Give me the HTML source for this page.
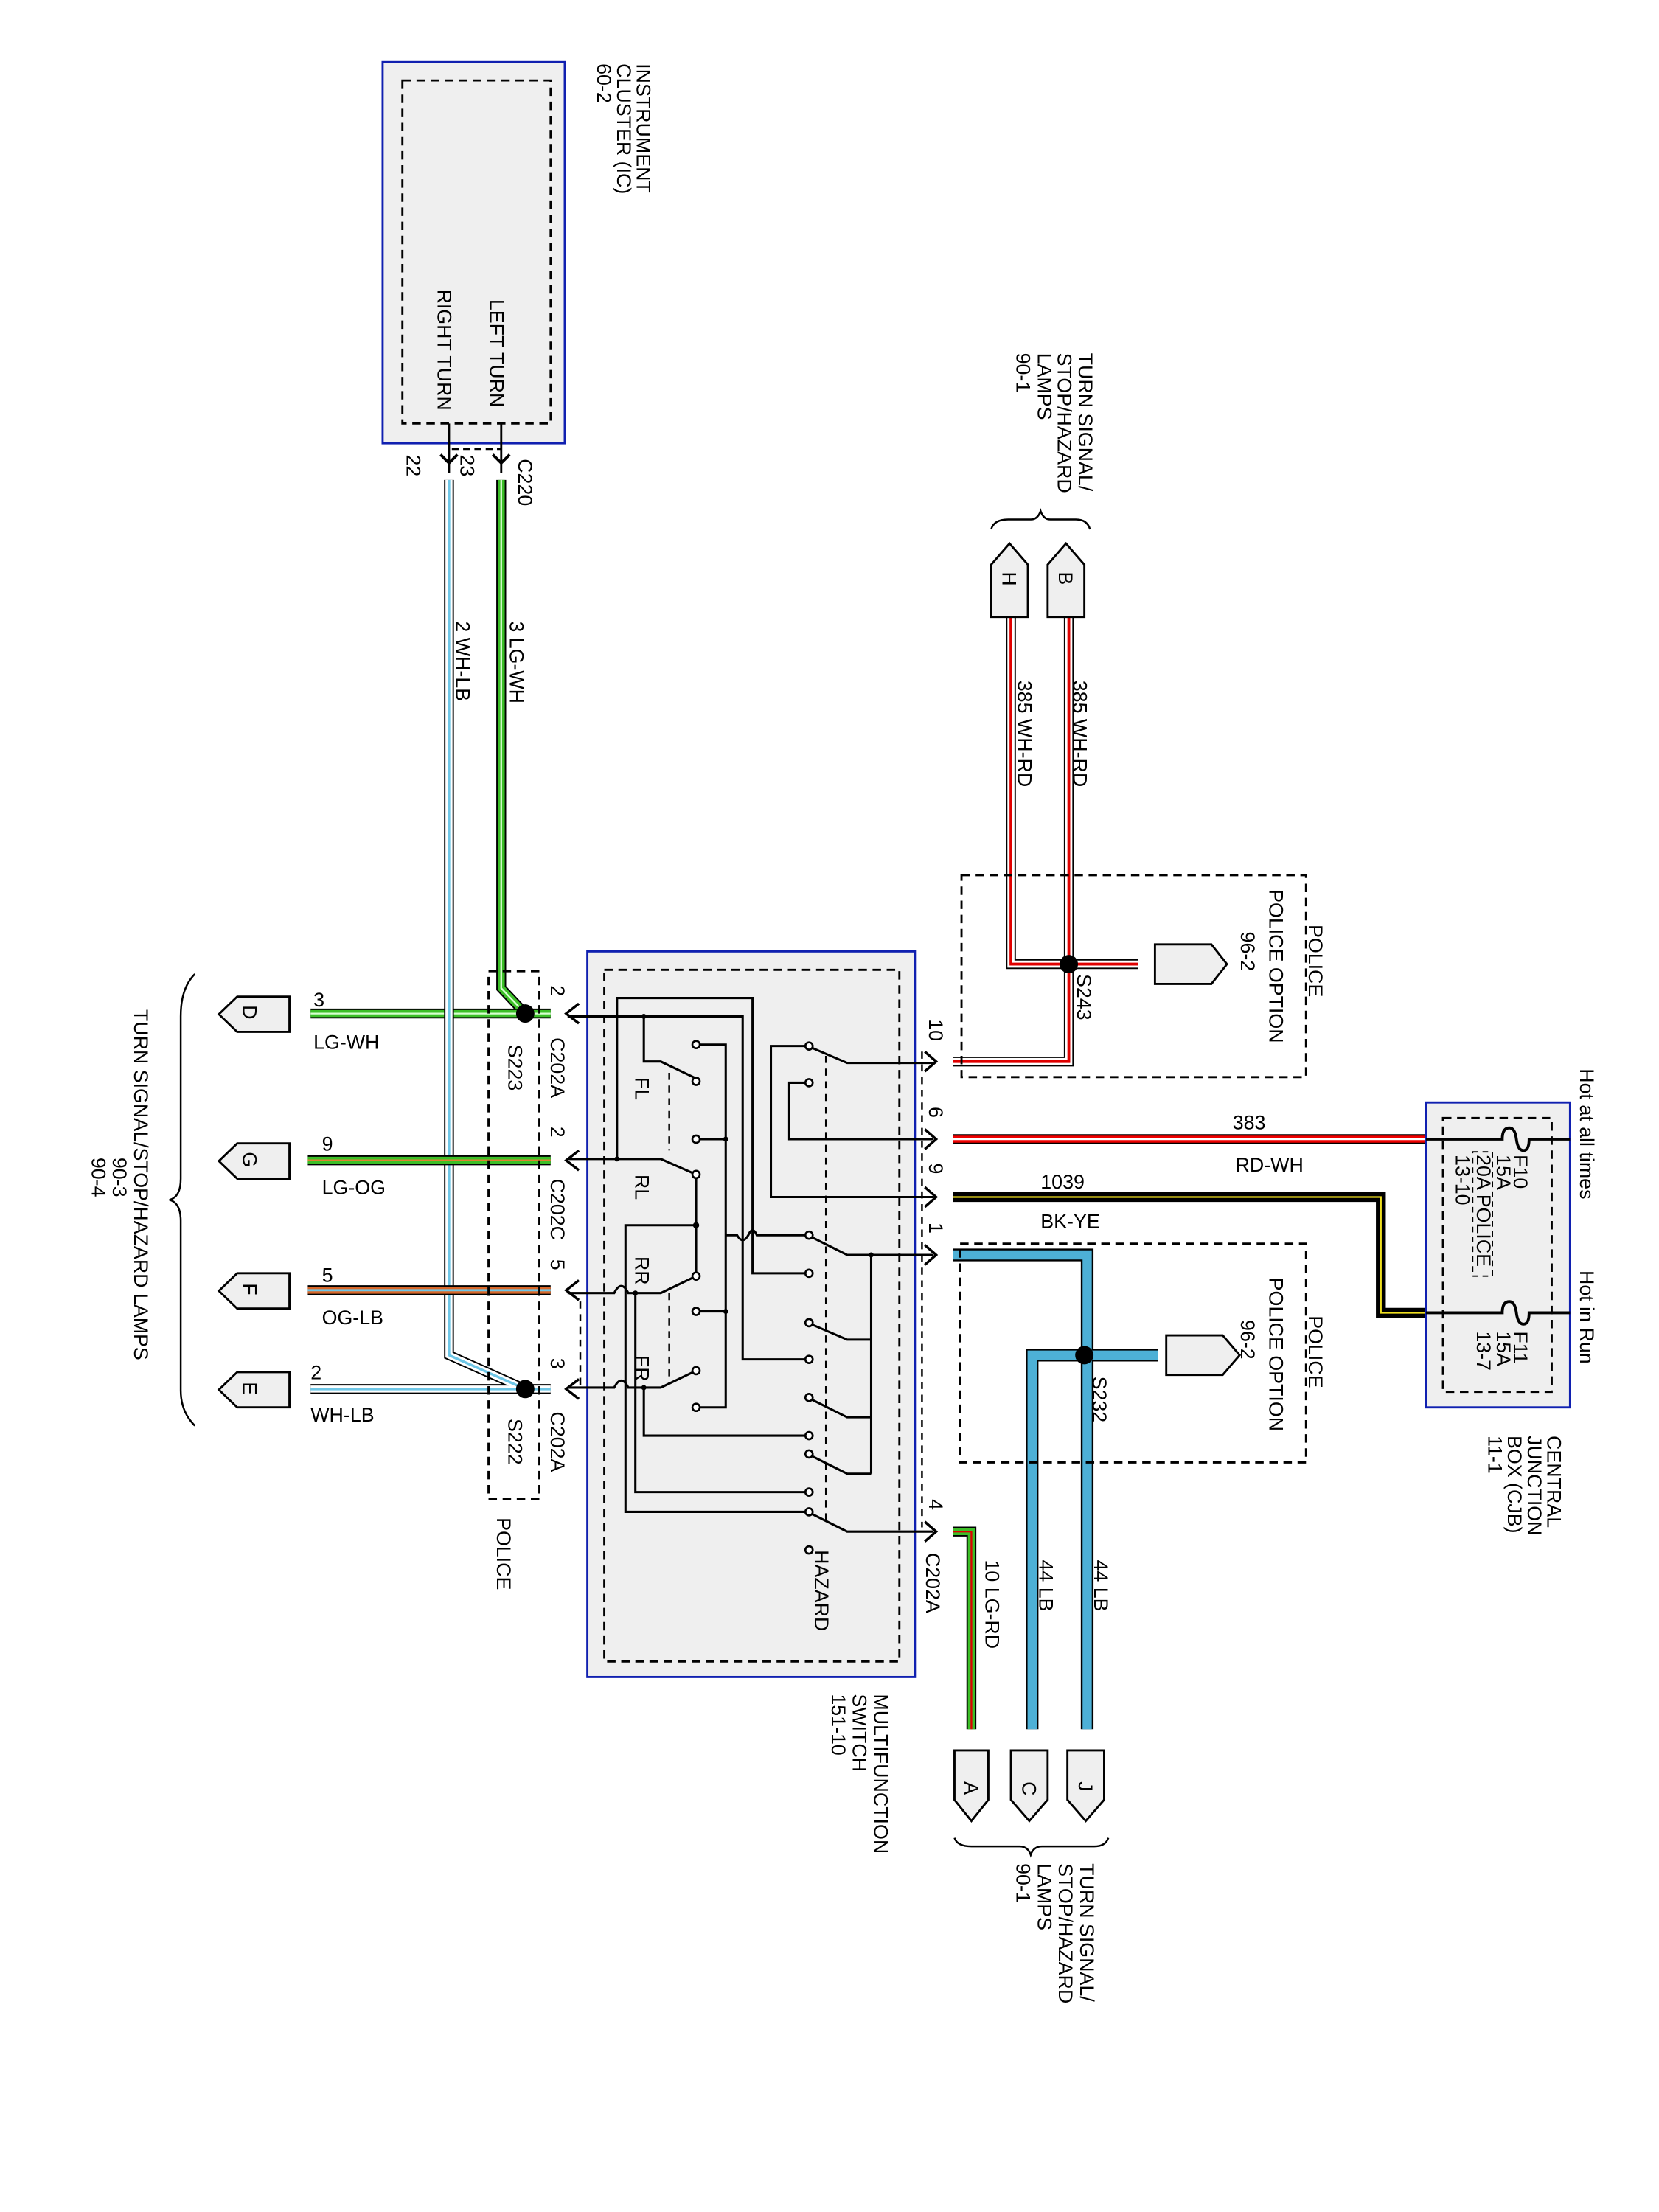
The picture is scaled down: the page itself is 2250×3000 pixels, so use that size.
<!DOCTYPE html>
<html><head><meta charset="utf-8"><style>
html,body{margin:0;padding:0;background:#fff}
svg{display:block}
text{font-family:"Liberation Sans",sans-serif;font-size:14px;fill:#000}
</style></head><body>
<svg width="2250" height="3000" viewBox="0 0 1175 1567" preserveAspectRatio="none" xmlns="http://www.w3.org/2000/svg">
<rect width="1175" height="1567" fill="#fff"/>
<!-- Instrument cluster -->
<rect x="271" y="44" width="129" height="270" fill="#efefef" stroke="#1020b0" stroke-width="1.5"/>
<rect x="285" y="57" width="105" height="243" fill="none" stroke="#000" stroke-width="1.5" stroke-dasharray="6,4"/>
<g>
<text transform="translate(451,45) rotate(90)">INSTRUMENT</text>
<text transform="translate(437,45) rotate(90)">CLUSTER (IC)</text>
<text transform="translate(423,45) rotate(90)">60-2</text>
<text transform="translate(347,212) rotate(90)">LEFT TURN</text>
<text transform="translate(310,205) rotate(90)">RIGHT TURN</text>
<text transform="translate(367,325) rotate(90)">C220</text>
<text transform="translate(326,322) rotate(90)">23</text>
<text transform="translate(288,322) rotate(90)">22</text>
<text transform="translate(361,440) rotate(90)">3 LG-WH</text>
<text transform="translate(323,440) rotate(90)">2 WH-LB</text>
</g>
<path d="M355,300V335M318,300V335" stroke="#000" stroke-width="1.5"/>
<path d="M320,318H355" stroke="#000" stroke-width="1.5" stroke-dasharray="5,3"/>
<path d="M349,322L355,328L361,322M312,322L318,328L324,322" fill="none" stroke="#000" stroke-width="2"/>

<!-- wires -->
<g fill="none" stroke-linejoin="miter">
<path d="M355,340V700L372,718M220,718H390" stroke="#000" stroke-width="7"/>
<path d="M355,340V700L372,718M220,718H390" stroke="#3cbf28" stroke-width="5"/>
<path d="M355,340V700L372,718M220,718H390" stroke="#d8ffd0" stroke-width="1.2"/>
<path d="M318,340V960L372,984M220,984H390" stroke="#000" stroke-width="7"/>
<path d="M318,340V960L372,984M220,984H390" stroke="#fff" stroke-width="5"/>
<path d="M318,340V960L372,984M220,984H390" stroke="#6ec6e6" stroke-width="1.8"/>
<path d="M218,822H390" stroke="#000" stroke-width="7"/>
<path d="M218,822H390" stroke="#3cbf28" stroke-width="5"/>
<path d="M218,822H390" stroke="#e08030" stroke-width="1.2"/>
<path d="M218,914H390" stroke="#000" stroke-width="7"/>
<path d="M218,914H390" stroke="#d8682a" stroke-width="5"/>
<path d="M218,914H390" stroke="#6ec6e6" stroke-width="1.5"/>
<path d="M675,752H757V437M716,437V683H806" stroke="#000" stroke-width="7"/>
<path d="M675,752H757V437M716,437V683H806" stroke="#fff" stroke-width="5"/>
<path d="M675,752H757V437M716,437V683H806" stroke="#e00000" stroke-width="2"/>
<path d="M675,807H1010" stroke="#000" stroke-width="7"/>
<path d="M675,807H1010" stroke="#ee0000" stroke-width="5"/>
<path d="M675,807H1010" stroke="#fff" stroke-width="1.3"/>
<path d="M675,848H978V930H1010" stroke="#000" stroke-width="7"/>
<path d="M675,848H978V930H1010" stroke="#f0e020" stroke-width="1.2"/>
<path d="M675,889H770V1225M731,1225V960H820" stroke="#000" stroke-width="9"/>
<path d="M675,889H770V1225M731,1225V960H820" stroke="#4db0d6" stroke-width="6.5"/>
<path d="M675,1085H688V1225" stroke="#000" stroke-width="7"/>
<path d="M675,1085H688V1225" stroke="#3cbf28" stroke-width="5"/>
<path d="M675,1085H688V1225" stroke="#e00000" stroke-width="1.2"/>
</g>
<circle cx="372" cy="718" r="6.5"/><circle cx="372" cy="984" r="6.5"/>
<circle cx="757" cy="683" r="6.5"/><circle cx="768" cy="960" r="6.5"/>

<g fill="#efefef" stroke="#000" stroke-width="1.5">
<path d="M205,706V731H168L155,718.5L168,706Z"/>
<path d="M205,810V835H168L155,822.5L168,810Z"/>
<path d="M205,902V927H168L155,914.5L168,902Z"/>
<path d="M205,972V997H168L155,984.5L168,972Z"/>
<path d="M702,437H728V400L715,385L702,400Z"/>
<path d="M742,437H768V400L755,385L742,400Z"/>
<path d="M676,1240H700V1275L688,1290L676,1275Z"/>
<path d="M716,1240H742V1275L729,1290L716,1275Z"/>
<path d="M756,1240H782V1275L769,1290L756,1275Z"/>
<path d="M818,669H858L869,683L858,697H818Z"/>
<path d="M826,946H866L878,960L866,974H826Z"/>
</g>
<g>
<text transform="translate(172,712) rotate(90)">D</text>
<text transform="translate(172,816) rotate(90)">G</text>
<text transform="translate(172,909) rotate(90)">F</text>
<text transform="translate(172,979) rotate(90)">E</text>
<text transform="translate(710,405) rotate(90)">H</text>
<text transform="translate(750,405) rotate(90)">B</text>
<text transform="translate(683,1262) rotate(90)">A</text>
<text transform="translate(724,1262) rotate(90)">C</text>
<text transform="translate(764,1262) rotate(90)">J</text>
</g>
<g fill="none" stroke="#000" stroke-width="1.3">
<path d="M138,690Q128,700 128,720V835Q128,848 120,850Q128,852 128,865V985Q128,1000 138,1010"/>
<path d="M702,375Q704,368 714,368H730Q735,368 737,362Q739,368 744,368H762Q770,368 772,375"/>
<path d="M676,1302Q678,1308 688,1308H722Q728,1308 730,1314Q732,1308 738,1308H775Q783,1308 785,1302"/>
</g>
<text transform="translate(95,715) rotate(90)">TURN SIGNAL/STOP/HAZARD LAMPS</text>
<text transform="translate(80,820) rotate(90)">90-3</text>
<text transform="translate(65,820) rotate(90)">90-4</text>
<text transform="translate(764,250) rotate(90)">TURN SIGNAL/</text>
<text transform="translate(749,250) rotate(90)">STOP/HAZARD</text>
<text transform="translate(735,250) rotate(90)">LAMPS</text>
<text transform="translate(720,250) rotate(90)">90-1</text>
<text transform="translate(765,1320) rotate(90)">TURN SIGNAL/</text>
<text transform="translate(750,1320) rotate(90)">STOP/HAZARD</text>
<text transform="translate(735,1320) rotate(90)">LAMPS</text>
<text transform="translate(720,1320) rotate(90)">90-1</text>

<text x="222" y="713">3</text><text x="222" y="743">LG-WH</text>
<text x="228" y="815">9</text><text x="228" y="846">LG-OG</text>
<text x="228" y="908">5</text><text x="228" y="938">OG-LB</text>
<text x="220" y="977">2</text><text x="220" y="1007">WH-LB</text>

<rect x="346" y="688" width="36" height="374" fill="none" stroke="#000" stroke-width="1.5" stroke-dasharray="6,4"/>
<text transform="translate(352,1075) rotate(90)">POLICE</text>
<text transform="translate(360,740) rotate(90)">S223</text>
<text transform="translate(360,1005) rotate(90)">S222</text>
<text transform="translate(390,735) rotate(90)">C202A</text>
<text transform="translate(390,835) rotate(90)">C202C</text>
<text transform="translate(390,1000) rotate(90)">C202A</text>
<text transform="translate(390,698) rotate(90)">2</text>
<text transform="translate(390,798) rotate(90)">2</text>
<text transform="translate(390,892) rotate(90)">5</text>
<text transform="translate(390,962) rotate(90)">3</text>

<rect x="416" y="674" width="232" height="514" fill="#efefef" stroke="#1020b0" stroke-width="1.5"/>
<rect x="428" y="687" width="209" height="490" fill="none" stroke="#000" stroke-width="1.5" stroke-dasharray="6,4"/>
<text transform="translate(619,1200) rotate(90)">MULTIFUNCTION</text>
<text transform="translate(604,1200) rotate(90)">SWITCH</text>
<text transform="translate(589,1200) rotate(90)">151-10</text>
<text transform="translate(577,1098) rotate(90)">HAZARD</text>
<text transform="translate(450,763) rotate(90)">FL</text>
<text transform="translate(450,832) rotate(90)">RL</text>
<text transform="translate(450,890) rotate(90)">RR</text>
<text transform="translate(450,960) rotate(90)">FR</text>

<g fill="none" stroke="#000" stroke-width="1.8">
<path d="M410,711L401,718L410,725M410,815L401,822L410,829M410,907L401,914L410,921M410,977L401,984L410,991"/>
<path d="M655,745L663,752L655,759M655,800L663,807L655,814M655,841L663,848L655,855M655,882L663,889L655,896M655,1078L663,1085L655,1092"/>
</g>
<g fill="none" stroke="#000" stroke-width="1.3" stroke-dasharray="5,4">
<path d="M653,745V1082"/>
<path d="M585,748V1077"/>
<path d="M474,760V815M474,916V980"/>
<path d="M411,922V982"/>
</g>
<g fill="none" stroke="#000" stroke-width="1.6">
<path d="M402,720H526V963H572"/>
<path d="M456,720V752H468L493,764"/>
<path d="M493,740H514V997H493M493,807H514M493,929H514"/>
<path d="M437,821V707H533V902H572"/>
<path d="M402,821H468L493,832V904"/>
<path d="M493,868H443V1071H572"/>
<path d="M402,916H435Q440,906 445,916H468L493,904"/>
<path d="M450,916V1057H572"/>
<path d="M402,983H435Q440,973 445,983H468L493,971"/>
<path d="M456,983V1017H572"/>
<path d="M572,741L600,753H661"/>
<path d="M572,875L600,889H661"/>
<path d="M572,1071L600,1085H661"/>
<path d="M617,889V1044M572,937L600,949H617M572,990L600,1004H617M572,1030L600,1044H617"/>
<path d="M572,767H559V807H661"/>
<path d="M572,741H546V848H661"/>
<path d="M514,875H522Q526,882 530,875Q533,868 536,875H572"/>
</g>
<g fill="#fff" stroke="#000" stroke-width="1.4">
<circle cx="493" cy="740" r="2.6"/><circle cx="493" cy="766" r="2.6"/><circle cx="493" cy="807" r="2.6"/>
<circle cx="493" cy="832" r="2.6"/><circle cx="493" cy="904" r="2.6"/><circle cx="493" cy="929" r="2.6"/>
<circle cx="493" cy="971" r="2.6"/><circle cx="493" cy="997" r="2.6"/>
<circle cx="573" cy="741" r="2.6"/><circle cx="573" cy="767" r="2.6"/><circle cx="573" cy="875" r="2.6"/>
<circle cx="573" cy="902" r="2.6"/><circle cx="573" cy="937" r="2.6"/><circle cx="573" cy="963" r="2.6"/>
<circle cx="573" cy="990" r="2.6"/><circle cx="573" cy="1017" r="2.6"/><circle cx="573" cy="1030" r="2.6"/>
<circle cx="573" cy="1057" r="2.6"/><circle cx="573" cy="1071" r="2.6"/><circle cx="573" cy="1098" r="2.6"/>
</g>
<circle cx="493" cy="868" r="2.2"/><circle cx="456" cy="720" r="1.8"/><circle cx="437" cy="821" r="1.8"/>
<circle cx="450" cy="916" r="1.8"/><circle cx="456" cy="983" r="1.8"/><circle cx="617" cy="889" r="1.8"/>
<circle cx="514" cy="807" r="1.8"/><circle cx="514" cy="929" r="1.8"/>

<text transform="translate(658,722) rotate(90)">10</text>
<text transform="translate(658,784) rotate(90)">6</text>
<text transform="translate(658,824) rotate(90)">9</text>
<text transform="translate(658,866) rotate(90)">1</text>
<text transform="translate(658,1062) rotate(90)">4</text>
<text transform="translate(656,1100) rotate(90)">C202A</text>

<rect x="681" y="620" width="244" height="143" fill="none" stroke="#000" stroke-width="1.5" stroke-dasharray="6,4"/>
<text transform="translate(927,655) rotate(90)">POLICE</text>
<text transform="translate(899,630) rotate(90)">POLICE OPTION</text>
<text transform="translate(879,660) rotate(90)">96-2</text>
<text transform="translate(763,690) rotate(90)">S243</text>
<text transform="translate(760,482) rotate(90)">385  WH-RD</text>
<text transform="translate(721,482) rotate(90)">385  WH-RD</text>
<rect x="680" y="881" width="245" height="155" fill="none" stroke="#000" stroke-width="1.5" stroke-dasharray="6,4"/>
<text transform="translate(927,932) rotate(90)">POLICE</text>
<text transform="translate(899,905) rotate(90)">POLICE OPTION</text>
<text transform="translate(879,935) rotate(90)">96-2</text>
<text transform="translate(774,975) rotate(90)">S232</text>
<text transform="translate(775,1105) rotate(90)">44  LB</text>
<text transform="translate(736,1105) rotate(90)">44  LB</text>
<text transform="translate(698,1105) rotate(90)">10  LG-RD</text>

<text x="873" y="800">383</text><text x="875" y="830">RD-WH</text>
<text x="737" y="842">1039</text><text x="737" y="870">BK-YE</text>

<rect x="1010" y="781" width="102" height="216" fill="#efefef" stroke="#1020b0" stroke-width="1.5"/>
<rect x="1022" y="792" width="77" height="194" fill="none" stroke="#000" stroke-width="1.5" stroke-dasharray="6,4"/>
<rect x="1043" y="816" width="14" height="88" fill="none" stroke="#000" stroke-width="1" stroke-dasharray="4,3"/>
<g fill="none" stroke="#000" stroke-width="2">
<path d="M1010,807H1064Q1064,799 1069,799Q1073,799 1074,807Q1075,815 1079,815Q1083,815 1083,807H1112"/>
<path d="M1010,930H1064Q1064,922 1069,922Q1073,922 1074,930Q1075,938 1079,938Q1083,938 1083,930H1112"/>
</g>
<text transform="translate(1072,818) rotate(90)">F10</text>
<text transform="translate(1060,818) rotate(90)">15A</text>
<text transform="translate(1046,818) rotate(90)">20A POLICE</text>
<text transform="translate(1031,818) rotate(90)">13-10</text>
<text transform="translate(1072,943) rotate(90)">F11</text>
<text transform="translate(1060,943) rotate(90)">15A</text>
<text transform="translate(1046,943) rotate(90)">13-7</text>
<text transform="translate(1119,757) rotate(90)">Hot at all times</text>
<text transform="translate(1119,900) rotate(90)">Hot in Run</text>
<text transform="translate(1096,1017) rotate(90)">CENTRAL</text>
<text transform="translate(1082,1017) rotate(90)">JUNCTION</text>
<text transform="translate(1068,1017) rotate(90)">BOX (CJB)</text>
<text transform="translate(1054,1017) rotate(90)">11-1</text>
</svg>
</body></html>
